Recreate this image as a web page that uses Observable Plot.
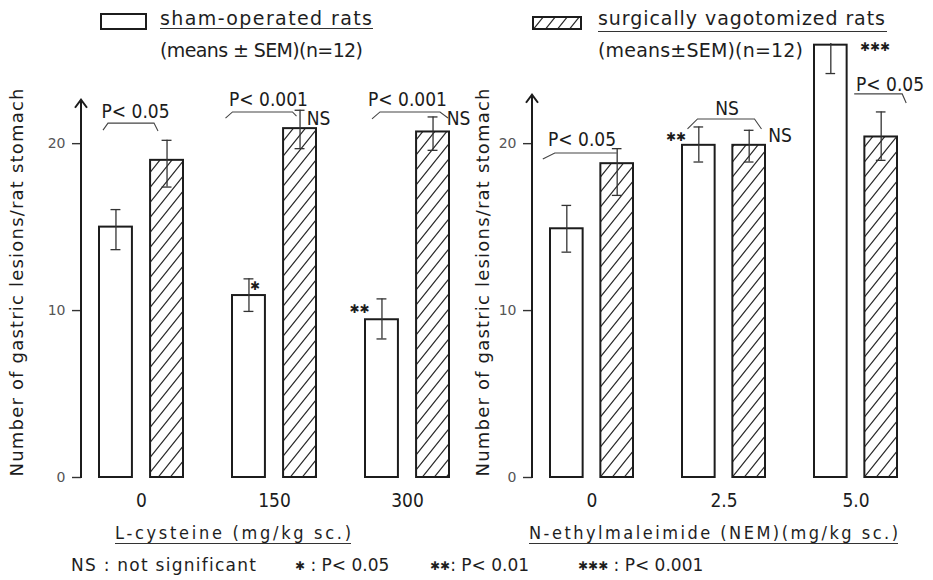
<!DOCTYPE html>
<html>
<head>
<meta charset="utf-8">
<script src="https://cdn.jsdelivr.net/npm/d3@7"></script>
<script src="https://cdn.jsdelivr.net/npm/@observablehq/plot@0.6"></script>
<style>
  html, body { margin: 0; padding: 0; background: #fff; }
  #fig { position: relative; width: 933px; height: 580px; overflow: hidden; background: #fff; color: #1e1e1e;
         font-family: "DejaVu Sans", sans-serif; }
  .lbl { position: absolute; white-space: nowrap; }
  .hl { position: absolute; height: 0; border-top: 1.4px solid #333; }
  .st { font-size: 12px; position: relative; top: -1px; }
</style>
</head>
<body>
<svg width="0" height="0" style="position:absolute">
  <defs>
    <pattern id="hatch" patternUnits="userSpaceOnUse" width="12" height="15">
      <path d="M-3,3.75L3,-3.75M0,15L12,0M9,18.75L15,11.25" stroke="#2a2a2a" stroke-width="1.2" fill="none"/>
    </pattern>
  </defs>
</svg>
<div id="fig"></div>
<script>
// ---------------- data ----------------
const groups = ["sham-operated rats", "surgically vagotomized rats"];
const yTicks = [0, 10, 20];

const lcysDoses = ["0", "150", "300"];
const lcysSham = [15.0, 10.9, 9.45];
const lcysShamLow = [13.65, 9.95, 8.3];
const lcysShamHigh = [16.05, 11.9, 10.7];
const lcysVag = [19.0, 20.9, 20.7];
const lcysVagLow = [17.4, 19.7, 19.6];
const lcysVagHigh = [20.2, 22.0, 21.6];

const nemDoses = ["0", "2.5", "5.0"];
const nemSham = [14.9, 19.9, 25.9];
const nemShamLow = [13.5, 18.9, 24.2];
const nemShamHigh = [16.3, 21.0, 27.6];
const nemVag = [18.8, 19.9, 20.4];
const nemVagLow = [16.9, 18.9, 19.0];
const nemVagHigh = [19.7, 20.8, 21.9];

const yTitle = "Number of gastric lesions/rat stomach";
const lcysTitle = "L-cysteine (mg/kg sc.)";
const nemTitle = "N-ethylmaleimide (NEM)(mg/kg sc.)";
const semNote = ["(means ± SEM)(n=12)", "(means±SEM)(n=12)"];
const footNotes = ["NS : not significant", "✱ : P< 0.05", "✱✱: P< 0.01", "✱✱✱ : P< 0.001"];

// significance annotations: text and level (data units)
const lcysNotes = [
  {dose: "0",   text: "P< 0.05",  y: 21.9},
  {dose: "150", text: "P< 0.001", y: 22.6},
  {dose: "300", text: "P< 0.001", y: 22.6},
  {dose: "150", text: "NS", y: 21.5},
  {dose: "300", text: "NS", y: 21.5},
  {dose: "150", text: "✱", y: 11.45},
  {dose: "300", text: "✱✱", y: 10.1}
];
const nemNotes = [
  {dose: "0",   text: "P< 0.05", y: 20.2},
  {dose: "2.5", text: "NS", y: 22.1},
  {dose: "2.5", text: "✱✱", y: 20.4},
  {dose: "2.5", text: "NS", y: 20.45},
  {dose: "5.0", text: "✱✱✱", y: 25.8},
  {dose: "5.0", text: "P< 0.05", y: 23.5}
];
const lcysBracketLevels = [{dose: "0", y: 21.2}, {dose: "150", y: 21.87}, {dose: "300", y: 21.87}];
const nemBracketLevels = [{dose: "0", y: 19.41}, {dose: "2.5", y: 21.45}, {dose: "5.0", y: 22.95}];

// ---------------- layout (pixels) ----------------
const FONT = '"DejaVu Sans", sans-serif';
const FONT_C = '"DejaVu Sans Condensed", "Liberation Sans Narrow", "DejaVu Sans", sans-serif';
const INK = "#1c1c1c";
const PAD = 0.37;
const BAR = 33;
// horizontal offsets (px from band centre) for each note, in the same order as the note arrays
const lcysNoteDx = [-6, -6, 0, 44, 51, -19.5, -48];
const nemNoteDx = [-10, 3, -48, 56, 19, 34];
// bracket shapes: [px offset from band centre, offset in data units from the level]
const lcysBracketShape = [
  [[-38, -0.42], [-33, 0], [13, 0], [17, -0.47]],
  [[-48.5, -0.37], [-41.5, 0], [18.5, 0], [22.5, -0.25]],
  [[-35, -0.42], [-27, 0], [33, 0], [41, -0.36]]
];
const nemBracketShape = [
  [[-48.7, -0.36], [-36.7, 0], [25.3, 0]],
  [[-36, -0.6], [-26, 0], [31, 0], [38, -0.6]],
  [[-1.3, 0], [46.7, 0], [50.7, -0.55]]
];

function bandwidthOf(x) { return typeof x.bandwidth === "function" ? x.bandwidth() : x.bandwidth; }

function makePanel(cfg) {
  const {doses, sham, shamLo, shamHi, vag, vagLo, vagHi, width, axisX, xRange, arrowTop, titleDx,
         notes, noteDx, levels, shapes} = cfg;
  const shamRows = doses.map((d, i) => ({dose: d, value: sham[i], lo: shamLo[i], hi: shamHi[i]}));
  const vagRows = doses.map((d, i) => ({dose: d, value: vag[i], lo: vagLo[i], hi: vagHi[i]}));
  const bw = d3.scaleBand(doses, xRange).paddingInner(PAD).paddingOuter(0).bandwidth();
  const off = (bw - BAR) / 2;
  const capInset = (bw - 10) / 2;
  const errStyle = {stroke: "#333", strokeWidth: 1.3, clip: true};

  const axisArrow = (index, scales, values, dims) => {
    const y = scales.y, x0 = dims.marginLeft, yb = y(0), yt = y(arrowTop);
    const g = d3.create("svg:g").attr("fill", "none").attr("stroke", INK).attr("stroke-width", 2);
    g.append("path").attr("d", `M${x0},${yb + 1}V${yt}M${x0 - 6},${yt + 8}L${x0},${yt}L${x0 + 6},${yt + 8}`);
    return g.node();
  };
  const brackets = (index, scales) => {
    const x = scales.x, y = scales.y, b = bandwidthOf(x);
    const g = d3.create("svg:g").attr("fill", "none").attr("stroke", "#444").attr("stroke-width", 1.1);
    levels.forEach((lv, k) => {
      const c = x(lv.dose) + b / 2;
      const pts = shapes[k].map(([dx, dv]) => [c + dx, y(lv.y + dv)]);
      g.append("path").attr("d", d3.line()(pts));
    });
    return g.node();
  };

  const noteMarks = notes.map((n, i) => {
    const star = n.text.startsWith("✱");
    return Plot.text([n], {x: "dose", y: "y", text: "text", dx: noteDx[i],
      fontSize: star ? 12 : 19, fontFamily: star ? FONT : FONT_C, fill: INK});
  });

  const svg = Plot.plot({
    width, height: 515,
    marginLeft: axisX, marginRight: width - xRange[1], marginTop: 43, marginBottom: 38,
    style: {background: "transparent", color: INK, fontFamily: FONT, overflow: "visible"},
    x: {type: "band", domain: doses, range: xRange, paddingInner: PAD, paddingOuter: 0},
    y: {domain: [0, 26]},
    marks: [
      Plot.barY(shamRows, {x: "dose", y: "value", insetRight: bw - BAR, fill: "white", stroke: INK, strokeWidth: 2}),
      Plot.barY(vagRows, {x: "dose", y: "value", insetLeft: bw - BAR, fill: "url(#hatch)", stroke: INK, strokeWidth: 2}),
      Plot.ruleX(shamRows, {x: "dose", y1: "lo", y2: "hi", dx: -off, ...errStyle}),
      Plot.ruleX(vagRows, {x: "dose", y1: "lo", y2: "hi", dx: off, ...errStyle}),
      Plot.tickY(shamRows, {x: "dose", y: "hi", dx: -off, insetLeft: capInset, insetRight: capInset, ...errStyle}),
      Plot.tickY(shamRows, {x: "dose", y: "lo", dx: -off, insetLeft: capInset, insetRight: capInset, ...errStyle}),
      Plot.tickY(vagRows, {x: "dose", y: "hi", dx: off, insetLeft: capInset, insetRight: capInset, ...errStyle}),
      Plot.tickY(vagRows, {x: "dose", y: "lo", dx: off, insetLeft: capInset, insetRight: capInset, ...errStyle}),
      Plot.axisX({tickSize: 0, tickPadding: 16, fontSize: 19, fontFamily: FONT_C, label: null, fill: INK}),
      Plot.axisY({ticks: yTicks, tickSize: 9, tickPadding: 7, fontSize: 14, fill: "#555", stroke: "#333",
                  strokeWidth: 1.4, label: null}),
      axisArrow,
      Plot.text([yTitle], {text: d => d, frameAnchor: "left", textAnchor: "middle", lineAnchor: "middle",
                           rotate: -90, dx: titleDx, dy: 22, fontSize: 18, fontFamily: FONT, fill: INK}),
      brackets,
      ...noteMarks
    ]
  });
  svg.querySelectorAll("text").forEach(t => {
    if (t.textContent === yTitle) { t.setAttribute("textLength", 388); t.setAttribute("lengthAdjust", "spacing"); }
  });
  return svg;
}

const fig = document.getElementById("fig");

const leftPanel = makePanel({
  doses: lcysDoses, sham: lcysSham, shamLo: lcysShamLow, shamHi: lcysShamHigh,
  vag: lcysVag, vagLo: lcysVagLow, vagHi: lcysVagHigh,
  width: 466, axisX: 81, xRange: [98, 449], arrowTop: 22.6, titleDx: -64,
  notes: lcysNotes, noteDx: lcysNoteDx, levels: lcysBracketLevels, shapes: lcysBracketShape
});
const rightPanel = makePanel({
  doses: nemDoses, sham: nemSham, shamLo: nemShamLow, shamHi: nemShamHigh,
  vag: nemVag, vagLo: nemVagLow, vagHi: nemVagHigh,
  width: 467, axisX: 66, xRange: [84, 432], arrowTop: 22.9, titleDx: -49,
  notes: nemNotes, noteDx: nemNoteDx, levels: nemBracketLevels, shapes: nemBracketShape
});
for (const [svg, left] of [[leftPanel, 0], [rightPanel, 466]]) {
  svg.style.position = "absolute"; svg.style.left = left + "px"; svg.style.top = "0px";
  svg.style.maxWidth = "none";
  fig.append(svg);
}

// ---------------- HTML text: legend, axis titles, footnote ----------------
function place(html, x, cy, size, width, font) {
  const el = document.createElement("div");
  el.className = "lbl";
  el.style.left = x + "px";
  el.style.top = (cy - size * 0.48) + "px";
  el.style.fontSize = size + "px";
  el.style.lineHeight = size + "px";
  if (font) el.style.fontFamily = font;
  el.innerHTML = html;
  fig.append(el);
  if (width) {
    const w = el.getBoundingClientRect().width;
    const n = el.textContent.length;
    el.style.letterSpacing = ((width - w) / Math.max(1, n - 1)) + "px";
  }
  return el;
}
function hline(x1, x2, y, w) {
  const el = document.createElement("div");
  el.className = "hl";
  el.style.left = x1 + "px"; el.style.width = (x2 - x1) + "px"; el.style.top = y + "px";
  if (w) el.style.borderTopWidth = w + "px";
  fig.append(el);
}
const starify = s => s.replace(/✱/g, '<span class="st">✱</span>');

// legend swatches
const openBox = document.createElement("div");
Object.assign(openBox.style, {position: "absolute", left: "100px", top: "13px", width: "47px", height: "17px",
  boxSizing: "border-box", border: `2px solid ${INK}`, background: "#fff"});
fig.append(openBox);
const hatchBox = document.createElementNS("http://www.w3.org/2000/svg", "svg");
hatchBox.setAttribute("width", 50); hatchBox.setAttribute("height", 14);
Object.assign(hatchBox.style, {position: "absolute", left: "532px", top: "16px"});
hatchBox.innerHTML = `<rect x="1" y="1" width="48" height="12" fill="url(#hatch)" stroke="${INK}" stroke-width="2"/>`;
fig.append(hatchBox);

place(groups[0], 160, 18, 19, 212);
hline(160, 373, 28);
place(semNote[0], 160, 50, 19, 203);
place(groups[1], 598, 18, 19, 287);
hline(598, 887, 31);
place(semNote[1], 598, 50, 19, 205);

place(lcysTitle, 115, 533, 18, 236, FONT_C);
hline(115, 351, 543, 1.2);
place(nemTitle, 529, 533, 18, 369, FONT_C);
hline(529, 898, 543, 1.2);

place(starify(footNotes[0]), 71, 565, 17, 185);
place(starify(footNotes[1]), 295, 565, 17);
place(starify(footNotes[2]), 430, 565, 17);
place(starify(footNotes[3]), 578, 565, 17);
</script>
</body>
</html>
